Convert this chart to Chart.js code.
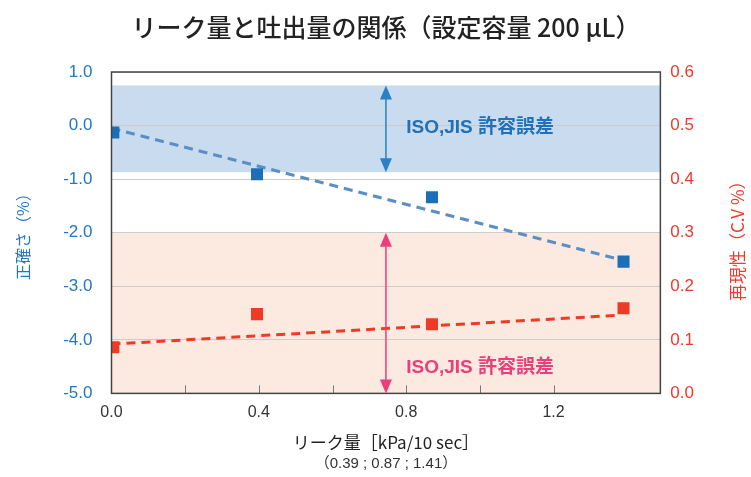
<!DOCTYPE html>
<html>
<head>
<meta charset="utf-8">
<script src="https://cdn.jsdelivr.net/npm/chart.js@4/dist/chart.umd.min.js"></script>
<style>
  body { margin: 0; background: #fff; }
  #wrap { width: 751px; height: 477px; }
</style>
</head>
<body>
<div id="wrap"><canvas id="myChart" width="751" height="477"></canvas></div>
<script>
// leak amount (x) for the four measurements
let leakValues = [0.005, 0.395, 0.87, 1.39];
// accuracy (%) - left axis
let accuracyValues = [-0.13, -0.91, -1.34, -2.54];
// repeatability (C.V %) - right axis
let cvValues = [0.086, 0.148, 0.129, 0.159];
// trend lines (start / end)
let accuracyTrendX = [0.0, 1.38];
let accuracyTrendY = [-0.05, -2.5];
let cvTrendX = [0.0, 1.38];
let cvTrendY = [0.092, 0.146];
// tolerance bands on the left axis
let blueBand = [0.75, -0.87];
let redBand = [-2.0, -5.0];
let arrowX = 0.745;
let bandLabel = 'ISO,JIS 許容誤差';
let labelPos = [[0.8, -0.05], [0.8, -4.53]];
let rightTitle = '再現性（C.V %）';

const cjk = '"Noto Sans CJK JP", "Liberation Sans", sans-serif';
const latin = '"Liberation Sans", Arial, sans-serif';
const mixed = '"Liberation Sans", "Noto Sans CJK JP", sans-serif';

const toPoints = (xs, ys) => xs.map((x, i) => ({x: x, y: ys[i]}));

const bandsPlugin = {
    id: 'bands',
    beforeDraw(chart) {
        let c = chart.ctx, a = chart.chartArea, y = chart.scales.y;
        c.save();
        c.fillStyle = '#c9dcef';
        let t = y.getPixelForValue(blueBand[0]), b = y.getPixelForValue(blueBand[1]);
        c.fillRect(a.left, t, a.right - a.left, b - t);
        c.fillStyle = '#fce9df';
        t = y.getPixelForValue(redBand[0]); b = y.getPixelForValue(redBand[1]);
        c.fillRect(a.left, t, a.right - a.left, b - t);
        c.restore();
    },
    afterDatasetsDraw(chart) {
        let c = chart.ctx, a = chart.chartArea, x = chart.scales.x, y = chart.scales.y;
        c.save();
        // inward ticks on the x axis
        c.strokeStyle = '#777';
        c.lineWidth = 1;
        x.ticks.forEach(t => {
            let px = Math.round(x.getPixelForValue(t.value)) + 0.5;
            if (px <= a.left + 1 || px >= a.right - 1) return;
            c.beginPath();
            c.moveTo(px, a.bottom);
            c.lineTo(px, a.bottom - 8);
            c.stroke();
        });
        // frame
        c.strokeStyle = '#444';
        c.lineWidth = 1.5;
        c.strokeRect(a.left, a.top, a.right - a.left, a.bottom - a.top);

        let drawArrow = (v0, v1, color) => {
            let px = x.getPixelForValue(arrowX);
            let p0 = y.getPixelForValue(v0), p1 = y.getPixelForValue(v1);
            c.strokeStyle = color;
            c.fillStyle = color;
            c.lineWidth = 1.5;
            c.beginPath();
            c.moveTo(px, p0 + 10);
            c.lineTo(px, p1 - 10);
            c.stroke();
            c.beginPath();
            c.moveTo(px, p0);
            c.lineTo(px - 6, p0 + 14);
            c.lineTo(px + 6, p0 + 14);
            c.closePath();
            c.fill();
            c.beginPath();
            c.moveTo(px, p1);
            c.lineTo(px - 6, p1 - 14);
            c.lineTo(px + 6, p1 - 14);
            c.closePath();
            c.fill();
        };
        drawArrow(blueBand[0], blueBand[1], '#2a80c5');
        drawArrow(redBand[0], redBand[1], '#ea3f7b');

        c.font = 'bold 19px ' + mixed;
        c.textBaseline = 'middle';
        c.textAlign = 'left';
        c.fillStyle = '#2170b8';
        c.fillText(bandLabel, x.getPixelForValue(labelPos[0][0]), y.getPixelForValue(labelPos[0][1]));
        c.fillStyle = '#e8407a';
        c.fillText(bandLabel, x.getPixelForValue(labelPos[1][0]), y.getPixelForValue(labelPos[1][1]));

        // right axis title, reading bottom to top like the left one
        c.translate(738, (a.top + a.bottom) / 2 + 4);
        c.rotate(-Math.PI / 2);
        c.textAlign = 'center';
        c.font = '17px ' + cjk;
        c.fillStyle = '#ec3a2c';
        c.fillText(rightTitle, 0, 0);
        c.restore();
    }
};

let ctx = document.getElementById('myChart').getContext('2d');
let myChart = new Chart(ctx, {
    type: 'scatter',
    data: {
        datasets: [{
            label: '正確さ',
            data: toPoints(leakValues, accuracyValues),
            yAxisID: 'y',
            pointStyle: 'rect',
            pointRadius: 8.5,
            backgroundColor: '#1a6fb8',
            borderColor: '#1a6fb8',
            borderWidth: 0
        }, {
            label: '再現性',
            data: toPoints(leakValues, cvValues),
            yAxisID: 'y1',
            pointStyle: 'rect',
            pointRadius: 8.5,
            backgroundColor: '#ee3b26',
            borderColor: '#ee3b26',
            borderWidth: 0
        }, {
            label: 'accuracy trend',
            data: toPoints(accuracyTrendX, accuracyTrendY),
            yAxisID: 'y',
            showLine: true,
            pointRadius: 0,
            borderColor: '#5b8ec5',
            borderWidth: 3,
            borderDash: [9, 6]
        }, {
            label: 'cv trend',
            data: toPoints(cvTrendX, cvTrendY),
            yAxisID: 'y1',
            showLine: true,
            pointRadius: 0,
            borderColor: '#ee3b26',
            borderWidth: 3,
            borderDash: [9, 6]
        }]
    },
    options: {
        responsive: false,
        animation: false,
        layout: { padding: { top: 4, left: 13, right: 47, bottom: 4 } },
        plugins: {
            legend: { display: false },
            tooltip: { enabled: false },
            title: {
                display: true,
                fullSize: false,
                text: 'リーク量と吐出量の関係（設定容量 200 μL）',
                color: '#222',
                font: { family: cjk, size: 25, weight: '500' },
                padding: { top: 8, bottom: 30 }
            },
            subtitle: {
                display: true,
                fullSize: false,
                position: 'bottom',
                text: '（0.39 ; 0.87 ; 1.41）',
                color: '#333',
                font: { family: mixed, size: 15 },
                padding: { top: 0, bottom: 0 }
            }
        },
        scales: {
            x: {
                type: 'linear',
                min: 0,
                max: 1.49,
                grid: { display: false, drawTicks: false },
                border: { display: false },
                afterBuildTicks: (scale) => {
                    scale.ticks = scale.ticks.filter(t => Math.abs(t.value / 0.2 - Math.round(t.value / 0.2)) < 1e-6);
                },
                ticks: {
                    stepSize: 0.2,
                    padding: 10,
                    color: '#333',
                    font: { family: latin, size: 16 },
                    autoSkip: false,
                    maxRotation: 0,
                    callback: (v) => Math.abs(v / 0.4 - Math.round(v / 0.4)) < 1e-6 ? v.toFixed(1) : ''
                },
                title: {
                    display: true,
                    text: 'リーク量［kPa/10 sec］',
                    color: '#222',
                    font: { family: cjk, size: 17 },
                    padding: { top: 0, bottom: 2 }
                }
            },
            y: {
                position: 'left',
                min: -5,
                max: 1,
                grid: { color: '#cccccc', drawTicks: false },
                border: { display: false },
                ticks: {
                    stepSize: 1,
                    padding: 19,
                    color: '#2378bd',
                    font: { family: latin, size: 17 },
                    callback: (v) => v.toFixed(1)
                },
                title: {
                    display: true,
                    text: '正確さ（%）',
                    color: '#2378bd',
                    font: { family: cjk, size: 16 },
                    padding: { top: 0, bottom: 12 }
                }
            },
            y1: {
                position: 'right',
                min: 0,
                max: 0.6,
                grid: { display: false, drawTicks: false },
                border: { display: false },
                ticks: {
                    stepSize: 0.1,
                    padding: 10,
                    color: '#ec3a2c',
                    font: { family: latin, size: 17 },
                    callback: (v) => v.toFixed(1)
                }
            }
        }
    },
    plugins: [bandsPlugin]
});
</script>
</body>
</html>
